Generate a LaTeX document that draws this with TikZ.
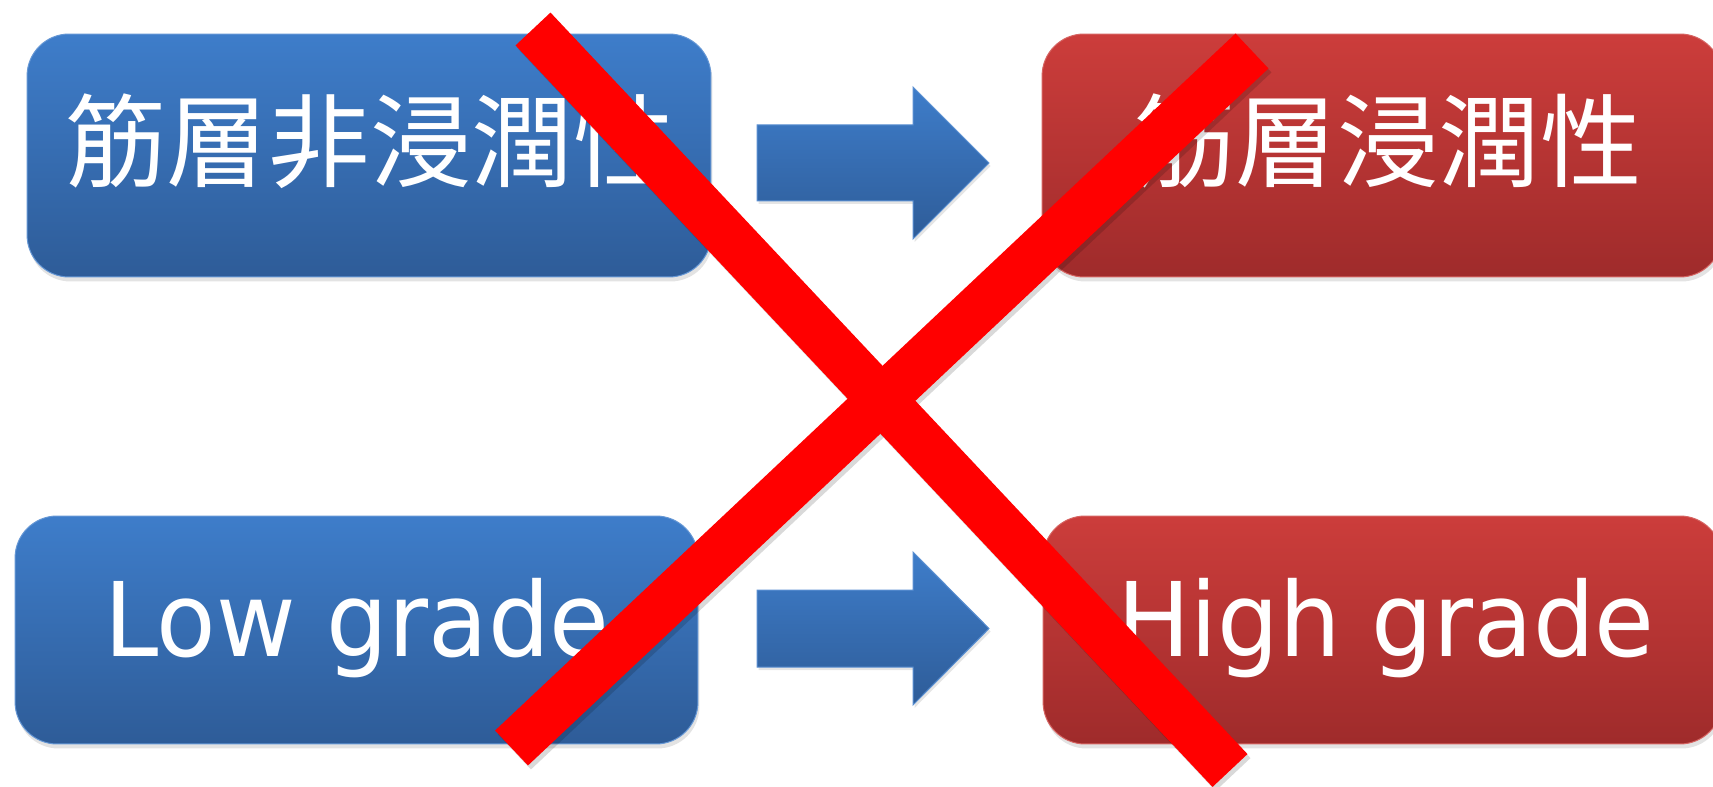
\documentclass[tikz,border=0pt]{standalone}
\usepackage{fontspec}
\newfontfamily\jpfont{Noto Sans CJK JP}
\newfontfamily\latfont[FakeStretch=0.945]{DejaVu Sans}
\usetikzlibrary{shadows}
\definecolor{bluetop}{HTML}{3E7DCA}
\definecolor{bluebot}{HTML}{2E5C98}
\definecolor{redtop}{HTML}{CC3D3B}
\definecolor{redbot}{HTML}{9F2B2B}
\definecolor{crossred}{HTML}{FF0000}
\begin{document}
\begin{tikzpicture}[x=0.02cm, y=-0.02cm,
 box/.style={rounded corners=0.84cm, inner sep=0pt, line width=0.02cm,
   drop shadow={shadow xshift=0.03cm, shadow yshift=-0.09cm, opacity=0.22}},
 bluebox/.style={box, draw=bluetop!80!white, top color=bluetop, bottom color=bluebot},
 redbox/.style={box, draw=redtop!80!white, top color=redtop, bottom color=redbot},
 jptext/.style={text=white, font=\jpfont\fontsize{57.8}{60}\selectfont, inner sep=0pt, anchor=base},
 lattext/.style={text=white, font=\latfont\fontsize{58.6}{62}\selectfont, inner sep=0pt, anchor=base},
 blockarrow/.style={draw=bluetop!85!white, line width=0.02cm, top color=bluetop, bottom color=bluebot,
   drop shadow={shadow xshift=0.03cm, shadow yshift=-0.06cm, opacity=0.2}},
 crossbar/.style={draw=crossred, line width=0.96cm},
 crossshadow/.style={draw=black, opacity=0.15, line width=0.96cm},
]
\useasboundingbox (0,0) rectangle (1713,787);
\fill[white] (0,0) rectangle (1713,787);

% boxes
\node[bluebox, minimum width=13.68cm, minimum height=4.86cm] (b1) at (369,155.5) {};
\node[redbox,  minimum width=13.60cm, minimum height=4.86cm] (b2) at (1382,155.5) {};
\node[bluebox, minimum width=13.66cm, minimum height=4.56cm] (b3) at (356.5,630) {};
\node[redbox,  minimum width=13.58cm, minimum height=4.56cm] (b4) at (1382.5,630) {};

% block arrows
\shade[blockarrow] (757,125) -- (913,125) -- (913,87) -- (989,163) -- (913,239) -- (913,201) -- (757,201) -- cycle;
\shade[blockarrow] (757,590) -- (913,590) -- (913,552) -- (989,628.5) -- (913,705) -- (913,667) -- (757,667) -- cycle;

% texts
\node[jptext] (t1) at (370,180) {筋層非浸潤性};
\node[jptext] (t2) at (1388,180) {筋層浸潤性};
\node[lattext] (t3) at (357,656) {Low grade};
\node[lattext] (t4) at (1386,656) {High grade};

% red cross
\coordinate (c1s) at (533,29);
\coordinate (c1e) at (1230,770.5);
\coordinate (c2s) at (1252,51);
\coordinate (c2e) at (511.5,748);
\draw[crossshadow] ([shift={(3,4)}]c1s) -- ([shift={(3,4)}]c1e);
\draw[crossshadow] ([shift={(3,4)}]c2s) -- ([shift={(3,4)}]c2e);
\draw[crossbar] (c1s) -- (c1e);
\draw[crossbar] (c2s) -- (c2e);
\end{tikzpicture}
\end{document}
